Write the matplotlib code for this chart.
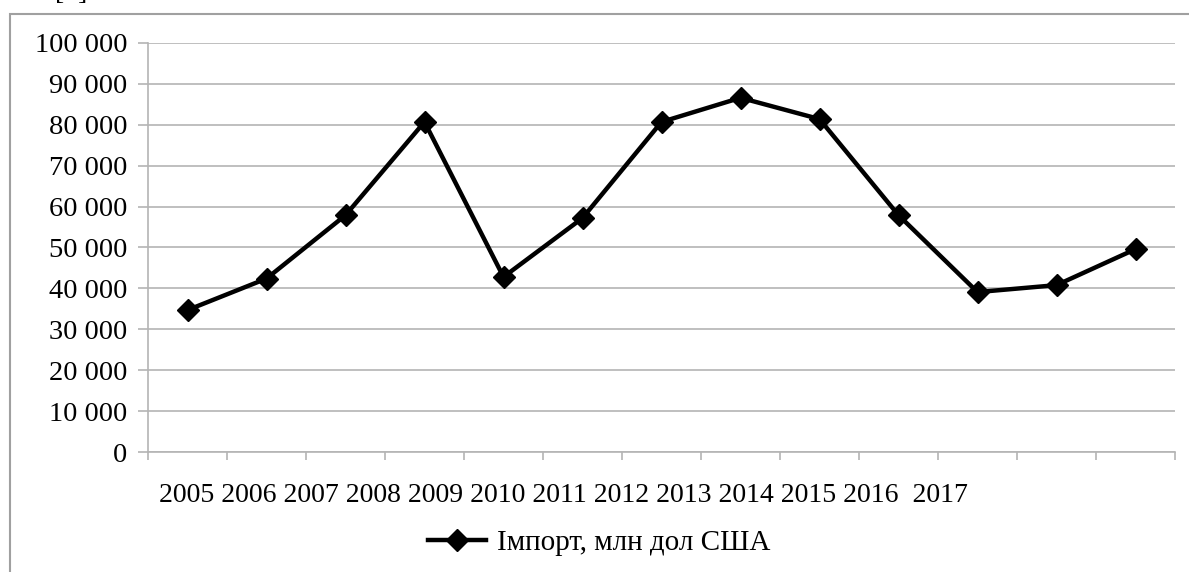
import matplotlib
matplotlib.use("Agg")
import matplotlib.pyplot as plt
from matplotlib.patches import Rectangle

years = ["2005", "2006", "2007", "2008", "2009", "2010", "2011",
         "2012", "2013", "2014", "2015", "2016", "2017"]
imports = [34700, 42400, 57900, 80700, 42800, 57200, 80700,
           86600, 81400, 57900, 39100, 40800, 49600]
series_name = "Імпорт, млн дол США"

plt.rcParams['font.family'] = ['Liberation Serif', 'DejaVu Serif']

W, H = 1189, 572
fig = plt.figure(figsize=(W / 100, H / 100), dpi=100)
ax = fig.add_axes([148 / W, 120 / H, (1175 - 148) / W, 409 / H])

grid_c = '#b4b4b4'
x = [i + 0.5 for i in range(len(years))]
ax.plot(x, imports, color='black', lw=3.2, marker='D', markersize=11.5,
        label=series_name)

ax.set_xlim(0, len(years))
ax.set_ylim(0, 100000)
ax.set_yticks(range(0, 100001, 10000))
ax.set_yticklabels(["{:,}".format(v).replace(",", " ") for v in range(0, 100001, 10000)],
                   fontsize=20.5)
ax.set_xticks(range(len(years) + 1))
ax.set_xticklabels([])
ax.grid(axis='y', color=grid_c, lw=1.2)
ax.set_axisbelow(True)
for s in ['top', 'right']:
    ax.spines[s].set_visible(False)
for s in ['left', 'bottom']:
    ax.spines[s].set_color(grid_c)
    ax.spines[s].set_linewidth(1.2)
ax.tick_params(axis='y', length=7, width=1.2, color=grid_c, pad=8)
ax.tick_params(axis='x', length=6, width=1.2, color=grid_c)

# category labels as drawn in the source (one squeezed row)
label_row = " ".join(years[:-1]) + "  " + years[-1]
fig.text(159 / W, 1 - 496 / H, label_row, fontsize=20, ha='left', va='center')

ax.legend(loc='center', bbox_to_anchor=(599 / W, 1 - 543 / H),
          bbox_transform=fig.transFigure, frameon=False, fontsize=21,
          handlelength=2.0, handletextpad=0.35)

# outer chart border (right and bottom edges fall outside the picture)
fig.patches.append(Rectangle((10 / W, -0.1), 1.2, 1 - 14 / H + 0.1,
                             transform=fig.transFigure, fill=False,
                             edgecolor='#a0a0a0', lw=1.5))
fig.text(55 / W, 1 + 1 / H, "[  ]", fontsize=20, ha='left', va='baseline')

fig.savefig("out.png", dpi=100)
